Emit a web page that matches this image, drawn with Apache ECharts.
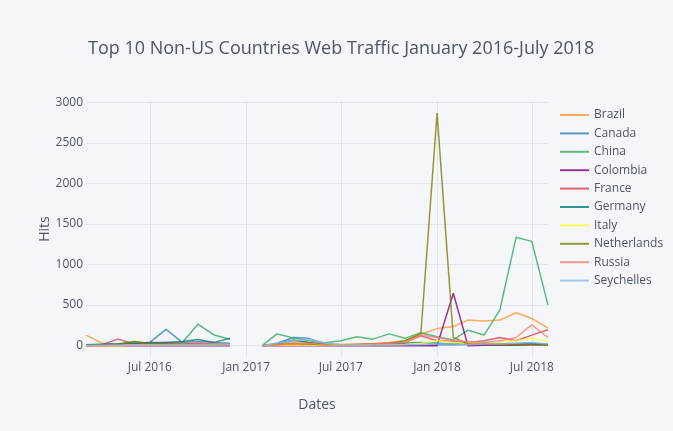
<!DOCTYPE html>
<html>
<head>
<meta charset="utf-8">
<script src="https://cdn.jsdelivr.net/npm/echarts@6/dist/echarts.min.js"></script>
<style>
  html, body { margin: 0; padding: 0; background: #F5F6F9; }
  #main { width: 673px; height: 431px; }
</style>
</head>
<body>
<div id="main"></div>
<script>
// monthly points, Jan 2017 missing in the source (gap in every line)
var months = ['2016-03','2016-04','2016-05','2016-06','2016-07','2016-08','2016-09','2016-10','2016-11','2016-12',
              '2017-01','2017-02','2017-03','2017-04','2017-05','2017-06','2017-07','2017-08','2017-09','2017-10',
              '2017-11','2017-12','2018-01','2018-02','2018-03','2018-04','2018-05','2018-06','2018-07','2018-08'];

var countries = ['Brazil','Canada','China','Colombia','France','Germany','Italy','Netherlands','Russia','Seychelles'];

var brazil      = [130, 30, 15, 20, 25, 20, 20, 15, 10, 10, null, 0, 20, 50, 40, 20, 15, 20, 25, 40, 60, 140, 210, 235, 315, 305, 315, 405, 335, 215];
var canada      = [10, 15, 20, 30, 40, 200, 40, 50, 40, 30, null, 0, 30, 100, 90, 20, 10, 15, 10, 15, 10, 5, 10, 10, 15, 20, 20, 25, 30, 20];
var china       = [10, 15, 20, 50, 30, 40, 40, 265, 130, 80, null, 0, 145, 95, 60, 35, 60, 110, 80, 145, 90, 160, 110, 70, 190, 130, 440, 1335, 1285, 500];
var colombia    = [0, 0, 0, 0, 0, 0, 0, 0, 0, 0, null, 0, 0, 0, 0, 0, 0, 0, 0, 0, 0, 0, 0, 645, 0, 5, 5, 5, 10, 10];
var france      = [5, 10, 80, 20, 30, 25, 20, 30, 20, 10, null, 0, 10, 10, 20, 10, 10, 10, 20, 30, 40, 120, 60, 50, 40, 60, 100, 60, 130, 195];
var germany     = [10, 15, 20, 30, 40, 40, 50, 75, 40, 90, null, 0, 20, 70, 40, 10, 10, 10, 15, 20, 30, 40, 30, 20, 20, 25, 20, 20, 30, 10];
var italy       = [0, 0, 0, 5, 5, 5, 5, 5, 5, 5, null, 0, 5, 5, 5, 5, 5, 5, 10, 10, 15, 30, 60, 40, 30, 30, 40, 60, 90, 50];
var netherlands = [0, 10, 15, 50, 20, 10, 10, 10, 10, 5, null, 0, 10, 30, 20, 10, 10, 10, 20, 30, 60, 150, 2865, 100, 20, 20, 10, 10, 10, 5];
var russia      = [0, 0, 5, 5, 10, 10, 10, 10, 20, 10, null, 0, 10, 20, 30, 10, 10, 10, 20, 30, 40, 130, 100, 60, 50, 40, 60, 100, 255, 100];
var seychelles  = [5, 5, 5, 10, 10, 10, 10, 10, 10, 10, null, 0, 30, 60, 80, 30, 10, 10, 10, 10, 10, 10, 20, 20, 10, 20, 20, 30, 40, 20];

var xTicks = ['2016-07','2017-01','2017-07','2018-01','2018-07'];
var colors = ['#ff9933','#3780bf','#32ab60','#800080','#db4052','#008080','#ffff33','#808000','#fa8072','#96b8e1'];

var monthNames = ['Jan','Feb','Mar','Apr','May','Jun','Jul','Aug','Sep','Oct','Nov','Dec'];
function toTime(s) {
	var p = s.split('-');
	return Date.UTC(+p[0], +p[1] - 1, 1);
}

var allValues = [brazil, canada, china, colombia, france, germany, italy, netherlands, russia, seychelles];
var series = [];
for (var i = 0; i < countries.length; i++) {
	var vals = allValues[i];
	series.push({
		name: countries[i],
		type: 'line',
		symbol: 'none',
		connectNulls: false,
		data: months.map(function (m, j) { return [toTime(m), vals[j]]; }),
		lineStyle: { width: 1.5, opacity: 0.8 },
		itemStyle: { color: colors[i], opacity: 0.8 }
	});
}

var txt = '#4D5663';
var grid = '#E1E5ED';

var myChart = echarts.init(document.getElementById('main'));
myChart.setOption({
	backgroundColor: '#F5F6F9',
	animation: false,
	color: colors,
	textStyle: { fontFamily: 'Open Sans' },
	title: {
		text: 'Top 10 Non-US Countries Web Traffic January 2016-July 2018',
		left: 83,
		top: 35,
		textStyle: { color: txt, fontSize: 18, fontWeight: 'normal', fontFamily: 'Open Sans' }
	},
	legend: {
		orient: 'vertical',
		left: 555,
		top: 104,
		icon: 'rect',
		itemWidth: 29,
		itemHeight: 2,
		itemGap: 6.4,
		data: countries,
		itemStyle: { opacity: 0.8 },
		textStyle: { color: txt, fontSize: 12, fontFamily: 'Open Sans' }
	},
	grid: { left: 86, right: 125, top: 101, bottom: 74 },
	xAxis: {
		type: 'value',
		min: toTime(months[0]),
		max: toTime(months[months.length - 1]),
		name: 'Dates',
		nameLocation: 'middle',
		nameGap: 41,
		nameMoveOverlap: false,
		nameTextStyle: { color: txt, fontSize: 14 },
		axisLine: { show: false },
		axisTick: { show: false, customValues: xTicks.map(toTime) },
		axisLabel: {
			customValues: xTicks.map(toTime),
			color: txt, fontSize: 12, margin: 5,
			formatter: function (v) {
				var d = new Date(v);
				return monthNames[d.getUTCMonth()] + ' ' + d.getUTCFullYear();
			}
		},
		splitLine: { show: true, lineStyle: { color: grid, width: 1 } }
	},
	yAxis: {
		type: 'value',
		min: -140,
		max: 3015,
		name: 'Hits',
		nameLocation: 'middle',
		nameGap: 34,
		nameMoveOverlap: false,
		nameTextStyle: { color: txt, fontSize: 14 },
		axisLine: { show: false },
		axisTick: { show: false },
		axisLabel: {
			color: txt, fontSize: 12, margin: 3,
			formatter: function (v) { return (v >= 0 && v % 500 === 0) ? String(v) : ''; }
		},
		splitLine: {
			show: true,
			lineStyle: { color: ['rgba(0,0,0,0)', grid, grid, grid, grid, grid, grid, grid, 'rgba(0,0,0,0)'], width: 1 }
		}
	},
	series: series
});
</script>
</body>
</html>
